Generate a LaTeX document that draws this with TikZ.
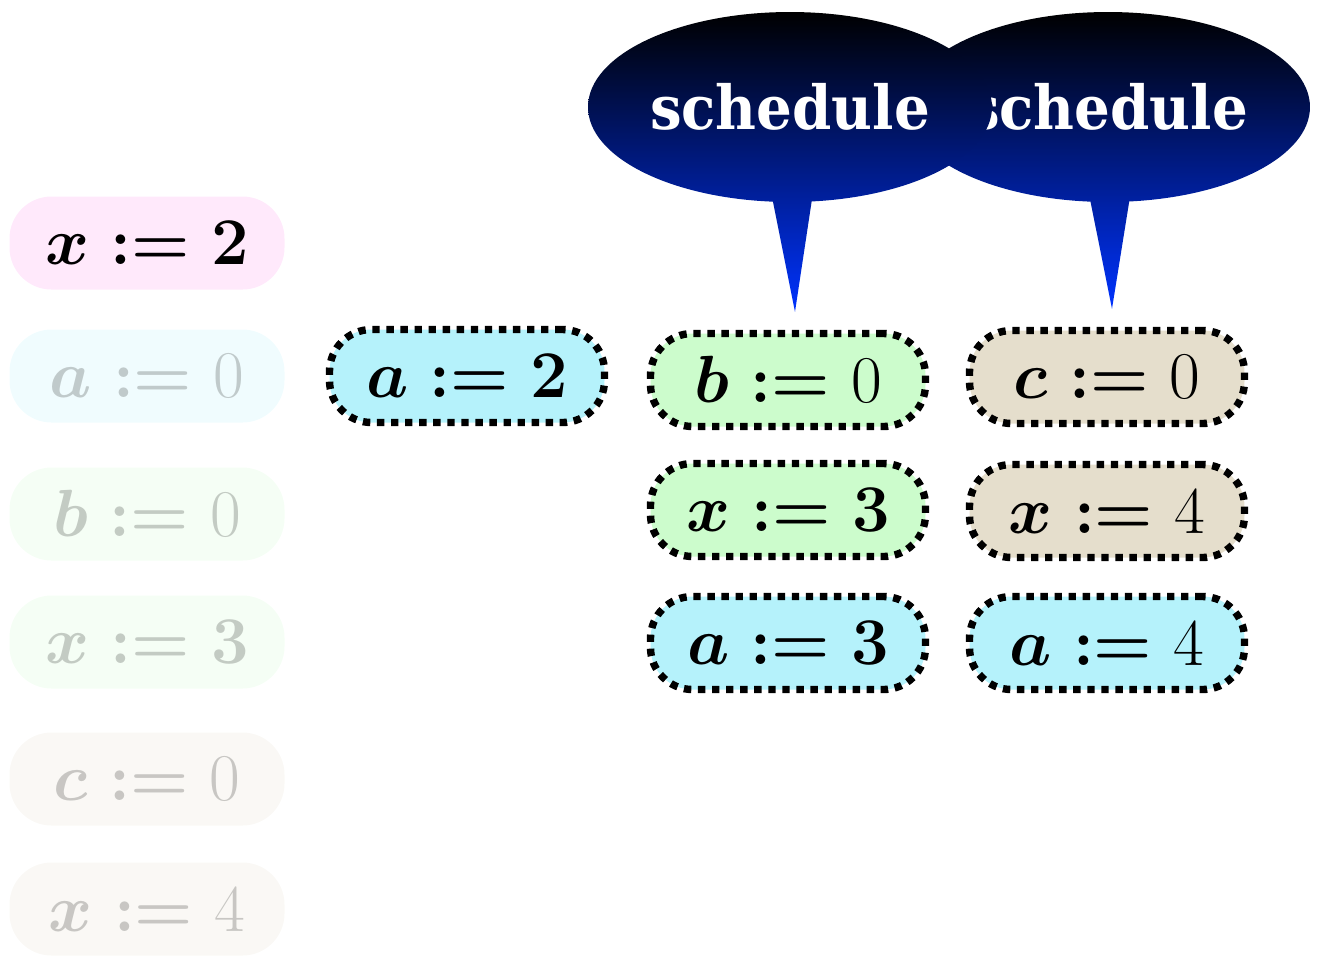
\RequirePackage{fix-cm}
\documentclass[tikz,border=0pt]{standalone}
\usepackage{amsmath}
\usepackage{fontspec}
\usetikzlibrary{positioning,shapes.callouts}
\newfontfamily\bubblefont{DejaVu Serif}
\definecolor{varpink}{HTML}{FFE9FB}
\definecolor{varcyan}{HTML}{B5F2FB}
\definecolor{vargreen}{HTML}{CCFCCC}
\definecolor{varbeige}{HTML}{E5DECC}
\definecolor{schedblue}{HTML}{0033FF}

\begin{document}
\begin{tikzpicture}[
  asg/.style={rounded corners=0.42cm, minimum width=2.75cm, minimum height=0.93cm,
              inner sep=0pt, font=\fontsize{19}{22}\selectfont\boldmath},
  live/.style={asg, draw, line width=2.1pt, dash pattern=on 2.1pt off 1.9pt},
  faded/.style={asg, opacity=0.2},
  bubble/.style={ellipse callout, inner sep=0pt, minimum width=4.04cm, minimum height=1.9cm,
                 callout pointer arc=11, top color=black, bottom color=schedblue,
                 text=white, font=\bubblefont\bfseries\fontsize{16}{18}\selectfont},
]
\useasboundingbox (0,0) rectangle (13.41,-9.63);

% left column: the program, faded where already used
\node[asg, fill=varpink] (lx2) at (1.47,-2.43) {$x := 2$};
\node[faded, fill=varcyan] (la0) at (1.47,-3.76) {$a := \text{0}$};
\node[faded, fill=vargreen] (lb0) at (1.47,-5.14) {$b := \text{0}$};
\node[faded, fill=vargreen] (lx3) at (1.47,-6.42) {$x := 3$};
\node[faded, fill=varbeige] (lc0) at (1.47,-7.79) {$c := \text{0}$};
\node[faded, fill=varbeige] (lx4) at (1.47,-9.09) {$x := \text{4}$};

% scheduled threads
\node[live, fill=varcyan] (a2) at (4.67,-3.76) {$a := 2$};

\node[live, fill=vargreen] (b0) at (7.88,-3.80) {$b := \text{0}$};
\node[live, fill=vargreen] (x3) at (7.88,-5.10) {$x := 3$};
\node[live, fill=varcyan] (a3) at (7.88,-6.43) {$a := 3$};

\node[live, fill=varbeige] (c0) at (11.07,-3.77) {$c := \text{0}$};
\node[live, fill=varbeige] (x4) at (11.07,-5.11) {$x := \text{4}$};
\node[live, fill=varcyan] (a4) at (11.07,-6.43) {$a := \text{4}$};

% bubbles
\coordinate[above=0.18cm of b0.north, xshift=0.07cm] (tipb);
\coordinate[above=0.18cm of c0.north, xshift=0.05cm] (tipc);
\node[bubble, callout absolute pointer={(tipc)}] (schedc) at (11.08,-1.07)
  {\makebox[2.4cm]{\scalebox{1}[1.08]{schedule}}};
\node[bubble, callout absolute pointer={(tipb)}] (schedb) at (7.90,-1.07)
  {\makebox[2.4cm]{\scalebox{1}[1.08]{schedule}}};

\end{tikzpicture}
\end{document}
